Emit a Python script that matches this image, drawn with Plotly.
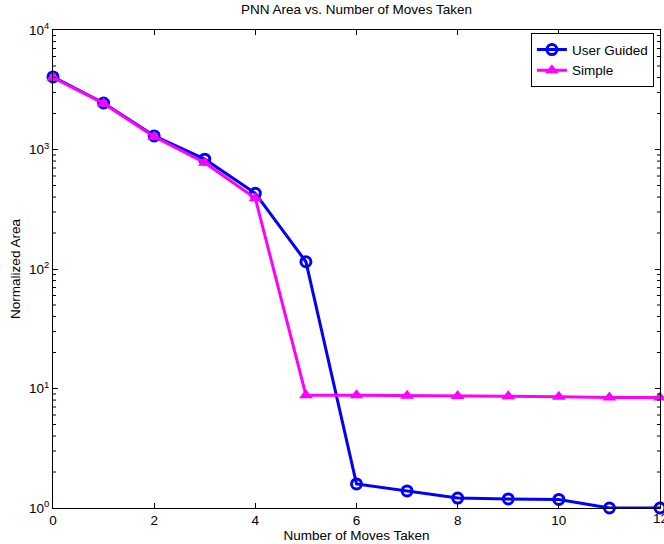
import plotly.graph_objects as go

moves = [0, 1, 2, 3, 4, 5, 6, 7, 8, 9, 10, 11, 12]
user_guided = [4050, 2450, 1300, 830, 430, 115, 1.59, 1.39, 1.21, 1.19, 1.18, 1.0, 1.0]
simple = [4000, 2430, 1280, 775, 390, 8.8, 8.8, 8.7, 8.65, 8.6, 8.55, 8.4, 8.4]

x_ticks = [0, 2, 4, 6, 8, 10, 12]
y_tickvals = [1, 10, 100, 1000, 10000]
y_ticktext = ["10<sup>0</sup>", "10<sup>1</sup>", "10<sup>2</sup>", "10<sup>3</sup>", "10<sup>4</sup>"]
y_minor = [m * d for d in [1, 10, 100, 1000] for m in range(2, 10)]

font = "Liberation Sans, Arial, sans-serif"
fs = 13.5

fig = go.Figure()
fig.add_trace(go.Scatter(
    x=moves, y=user_guided, name="User Guided", mode="lines+markers",
    line=dict(color="#0000ff", width=3),
    marker=dict(symbol="circle-open", size=10, color="#0000ff", line=dict(width=3, color="#0000ff")),
    cliponaxis=False,
))
fig.add_trace(go.Scatter(
    x=moves, y=simple, name="Simple", mode="lines+markers",
    line=dict(color="#ff00ff", width=3),
    marker=dict(symbol="triangle-up", size=12, color="#ff00ff"),
    cliponaxis=False,
))

# minor log ticks on the left and right frame
minor_shapes = []
for v in y_minor:
    for x0, x1 in ((0, 0.005), (0.995, 1)):
        minor_shapes.append(dict(type="line", xref="paper", yref="y", x0=x0, x1=x1,
                                 y0=v, y1=v, line=dict(color="black", width=1), layer="above"))

fig.update_layout(
    width=664, height=544,
    margin=dict(l=53, r=4, t=30, b=36, autoexpand=False),
    paper_bgcolor="white", plot_bgcolor="white",
    font=dict(family=font, size=fs, color="black"),
    title=dict(text="PNN Area vs. Number of Moves Taken", x=0.5, xanchor="center",
               xref="paper", y=1, yref="container", yanchor="top", pad=dict(t=5),
               font=dict(size=fs)),
    legend=dict(x=0.99, y=0.993, xanchor="right", yanchor="top",
                bgcolor="white", bordercolor="black", borderwidth=1,
                font=dict(size=fs), tracegroupgap=0, itemwidth=30),
    showlegend=True,
    shapes=minor_shapes,
)
fig.update_xaxes(
    range=[0, 12], tickvals=x_ticks[:-1], ticks="inside", ticklen=5, tickcolor="black",
    showline=True, linecolor="black", linewidth=1, mirror="ticks",
    showgrid=False, zeroline=False, automargin=False, tickfont=dict(size=fs),
    title=dict(text="Number of Moves Taken", standoff=2, font=dict(size=fs)),
)
fig.update_yaxes(
    type="log", range=[0, 4], tickvals=y_tickvals, ticktext=y_ticktext,
    ticks="inside", ticklen=5, tickcolor="black", tickfont=dict(size=fs),
    showline=True, linecolor="black", linewidth=1, mirror="ticks",
    showgrid=False, zeroline=False, automargin=False,
    title=dict(text="Normalized Area", standoff=5, font=dict(size=fs)),
)
# last x tick label, partly cut at the right edge as in the reference
fig.add_annotation(x=x_ticks[-1], y=0, xref="x", yref="paper", text=str(x_ticks[-1]),
                   showarrow=False, xanchor="center", yanchor="top", yshift=-1,
                   font=dict(size=fs))

fig.write_html("out.html", post_script="document.body.style.margin='0';",
               config={"displayModeBar": False})
